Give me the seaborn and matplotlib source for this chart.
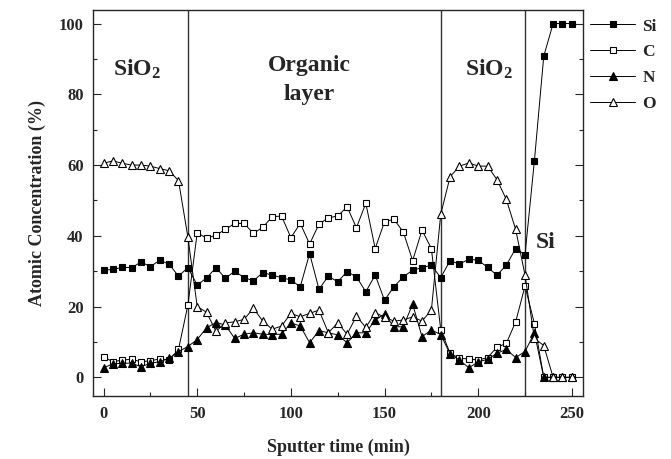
import pandas as pd
import matplotlib.pyplot as plt
import seaborn as sns
import numpy as np

# sputter times (min), one point every 5 min
time = [0, 5, 10, 15, 20, 25, 30, 35, 40, 45,
        50, 55, 60, 65, 70, 75, 80, 85, 90, 95,
        100, 105, 110, 115, 120, 125, 130, 135, 140, 145,
        150, 155, 160, 165, 170, 175, 180, 185, 190, 195,
        200, 205, 210, 215, 220, 225, 230, 235, 240, 245, 250]

si = [30.3, 30.5, 31.1, 31.0, 32.6, 31.3, 33.1, 32.0, 28.6, 31.0,
      26.1, 28.1, 31.0, 28.0, 30.0, 28.2, 27.3, 29.6, 28.9, 28.2,
      27.5, 25.6, 35.0, 24.9, 28.6, 27.0, 29.9, 28.4, 24.2, 28.9,
      21.8, 25.6, 28.4, 30.3, 31.0, 31.7, 28.2, 33.0, 32.0, 33.4,
      33.1, 31.1, 28.9, 31.7, 36.4, 34.7, 61.2, 90.8, 100, 100, 100]

c = [5.8, 4.4, 4.9, 5.1, 4.4, 4.7, 5.2, 4.9, 7.9, 20.4,
     40.9, 39.3, 40.2, 41.8, 43.5, 43.5, 40.7, 42.4, 45.4, 45.6,
     39.5, 43.5, 37.7, 43.3, 45.1, 45.6, 48.2, 42.3, 49.2, 36.4,
     44.0, 44.7, 41.1, 33.0, 41.6, 36.4, 13.4, 6.8, 5.4, 5.2,
     4.9, 5.6, 8.5, 9.6, 15.7, 25.8, 15.2, 0, 0, 0, 0]

n = [2.7, 3.8, 4.0, 4.0, 3.0, 4.0, 4.4, 5.4, 7.3, 8.7,
     10.7, 14.0, 15.5, 14.8, 11.0, 12.2, 12.6, 12.2, 12.1, 12.2,
     15.4, 14.5, 9.8, 13.2, 12.6, 12.0, 9.8, 12.6, 12.6, 16.2,
     17.9, 14.3, 14.3, 20.7, 11.5, 13.4, 12.1, 6.6, 4.9, 2.7,
     4.4, 5.1, 6.8, 7.9, 5.6, 7.3, 12.6, 0, 0, 0, 0]

o = [60.5, 61.2, 60.5, 60.0, 60.0, 59.7, 59.0, 58.4, 55.6, 39.7,
     20.0, 18.4, 13.0, 15.4, 15.7, 16.4, 19.5, 15.9, 13.6, 14.5,
     18.1, 17.1, 18.1, 19.0, 12.6, 15.4, 12.2, 17.3, 14.1, 18.3,
     17.0, 15.9, 16.2, 17.1, 15.9, 19.0, 46.1, 56.7, 59.7, 60.6,
     59.7, 59.7, 55.9, 50.3, 41.8, 28.9, 11.0, 9.0, 0, 0, 0]

boundaries = [45, 180, 225]

sns.set_style("ticks")
plt.rcParams["font.family"] = ["Liberation Serif", "DejaVu Serif"]
plt.rcParams["font.weight"] = "bold"
plt.rcParams["mathtext.fontset"] = "custom"
plt.rcParams["mathtext.rm"] = "Liberation Serif"
plt.rcParams["mathtext.bf"] = "Liberation Serif:bold"

fig, ax = plt.subplots(figsize=(6.71, 4.59), dpi=100)
fig.subplots_adjust(left=0.139, right=0.869, bottom=0.137, top=0.978)

series = [
    ("Si", si, "s", "black", 4.6),
    ("C", c, "s", "white", 4.6),
    ("N", n, "^", "black", 6),
    ("O", o, "^", "white", 6),
]

for name, vals, mk, fc, ms in series:
    sns.lineplot(x=time, y=vals, ax=ax, color="black", linewidth=0.7,
                 marker=mk, markersize=ms, markerfacecolor=fc,
                 markeredgecolor="black", markeredgewidth=0.8, label=name)

for b in boundaries:
    ax.axvline(b, color="#333333", linewidth=1.0, zorder=0)

ax.text(18, 87, r"$\mathbf{SiO_2}$", fontsize=17, ha="center", va="center")
ax.text(110, 84, "Organic\nlayer", fontsize=17, ha="center", va="center",
        fontweight="bold", linespacing=1.5)
ax.text(206, 87, r"$\mathbf{SiO_2}$", fontsize=17, ha="center", va="center")
ax.text(236, 38, "Si", fontsize=17, ha="center", va="center", fontweight="bold")

ax.set_xlim(-5.5, 256)
ax.set_ylim(-5.3, 103.8)
ax.set_xticks([0, 50, 100, 150, 200, 250])
ax.set_xticks([25, 75, 125, 175, 225], minor=True)
ax.set_yticks([0, 20, 40, 60, 80, 100])
ax.set_yticks([10, 30, 50, 70, 90], minor=True)
ax.tick_params(axis="both", which="major", direction="in", length=6, width=0.8,
               labelsize=12, pad=7)
ax.tick_params(axis="both", which="minor", direction="in", length=3, width=0.8)
ax.tick_params(axis="y", which="both", right=True)
for lab in ax.get_xticklabels() + ax.get_yticklabels():
    lab.set_fontweight("bold")
for sp in ax.spines.values():
    sp.set_linewidth(1.0)

ax.set_xlabel("Sputter time (min)", fontsize=13, fontweight="bold", labelpad=12)
ax.set_ylabel("Atomic Concentration (%)", fontsize=13, fontweight="bold", labelpad=9)

ax.legend(loc="upper left", bbox_to_anchor=(0.99, 1.01), frameon=False,
          handlelength=2.6, handletextpad=0.4, labelspacing=0.55,
          borderaxespad=0.3, prop={"weight": "bold", "size": 12.5})

fig.savefig("out.png", dpi=100)
